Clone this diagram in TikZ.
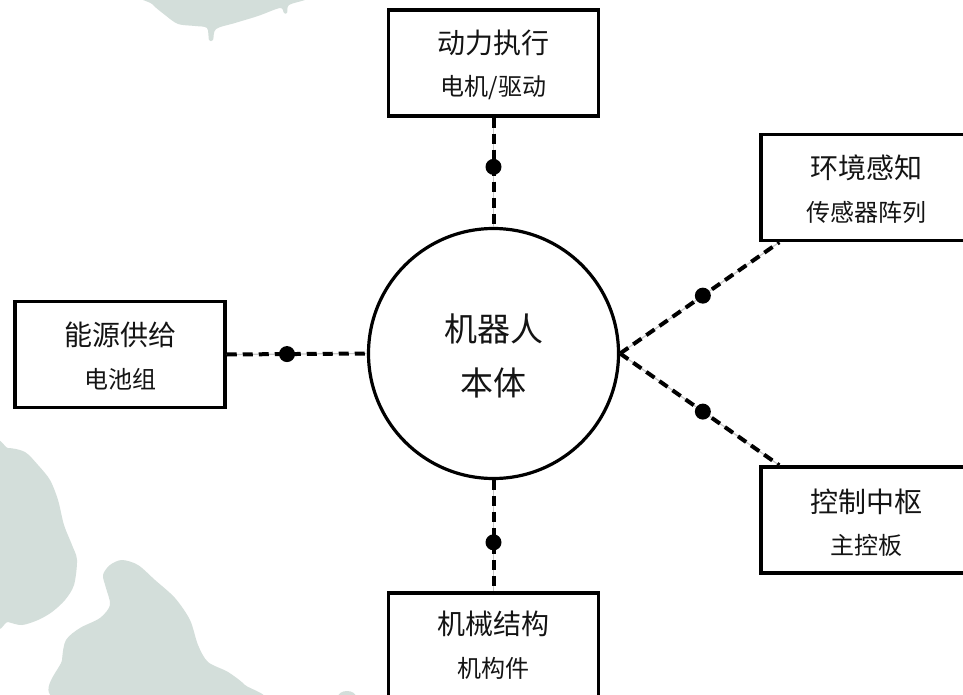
\documentclass[tikz,border=0pt]{standalone}
\usepackage{fontspec}
\newfontfamily\cjk{Noto Sans CJK SC}
\begin{document}
\begin{tikzpicture}[x=1pt,y=-1pt,
  blob/.style={fill=blobcol},
  box/.style={draw=black, line width=3.5pt, fill=white, rectangle, minimum width=210pt, minimum height=106pt, inner sep=0pt},
  bodycirc/.style={draw=black, line width=3.2pt, fill=white, circle, minimum size=250pt, inner sep=0pt},
  titletext/.style={font=\cjk\fontsize{28}{30}\selectfont, text=black!92},
  subtext/.style={font=\cjk\fontsize{24}{26}\selectfont, text=black!92},
  bodytext/.style={font=\cjk\fontsize{33}{36}\selectfont, text=black!92},
  link/.style={draw=black!22, line width=1.2pt, postaction={draw=black, line width=4pt, dash pattern=on 10pt off 6pt}},
  dotnode/.style={circle, fill=black, minimum size=16pt, inner sep=0pt}
]
\definecolor{blobcol}{HTML}{D3DEDA}
\useasboundingbox (0,0) rectangle (963,695);
\clip (0,0) rectangle (963,695);
\fill[white] (0,0) rectangle (963,695);

% background blobs
\fill[blob] plot[smooth cycle, tension=0.5] coordinates {
  (148,-5) (152,4) (165,15) (178,24) (195,26) (207,28) (209,40) (213,40) (216,29)
  (235,23) (258,16) (280,8) (284,13) (287,13) (289,5) (305,0) (315,-5)};
\fill[blob] plot[smooth cycle, tension=0.5] coordinates {
  (-5,452) (8,448) (25,452) (38,465) (50,480) (58,500) (64,525) (72,545) (77,560)
  (74,585) (65,600) (52,612) (38,620) (22,625) (8,622) (-5,618)};
\fill[blob] plot[smooth cycle, tension=0.5] coordinates {
  (122,560) (138,565) (155,580) (175,598) (190,620) (198,645) (208,662) (228,672)
  (245,685) (255,700) (60,700) (62,660) (66,640) (80,628) (100,618) (110,605)
  (106,588) (103,575) (110,565)};
\fill[blob] (347,697) ellipse (9 and 6);

% nodes
\node[bodycirc] (body) at (493.5,353.5) {};
\node[bodytext] (bodyt1) at ([yshift=24.5pt]body.center) {机器人};
\node[bodytext] (bodyt2) at ([yshift=-29.5pt]body.center) {本体};

\node[box] (top) at (493.5,63) {};
\node[titletext] (topt) at ([yshift=20pt]top.center) {动力执行};
\node[subtext] (tops) at ([yshift=-24.5pt]top.center) {电机/驱动};

\node[box] (left) at (120,354.5) {};
\node[titletext] (leftt) at ([yshift=20pt]left.center) {能源供给};
\node[subtext] (lefts) at ([yshift=-24.5pt]left.center) {电池组};

\node[box] (rtop) at (866,187.5) {};
\node[titletext] (rtopt) at ([yshift=20pt]rtop.center) {环境感知};
\node[subtext] (rtops) at ([yshift=-24.5pt]rtop.center) {传感器阵列};

\node[box] (rbot) at (866,520) {};
\node[titletext] (rbott) at ([yshift=18pt]rbot.center) {控制中枢};
\node[subtext] (rbots) at ([yshift=-25pt]rbot.center) {主控板};

\node[box] (bot) at (493.5,646) {};
\node[titletext] (bott) at ([yshift=22pt]bot.center) {机械结构};
\node[subtext] (bots) at ([yshift=-22pt]bot.center) {机构件};

% connectors
\coordinate (rtopend) at ([xshift=20pt]rtop.south west);
\coordinate (rbotend) at ([xshift=20pt]rbot.north west);
\path[link] (top.south) -- (body.north) node[dotnode, pos=0.45] (d1) {};
\path[link] (left.east) -- (body.west) node[dotnode, pos=0.43] (d2) {};
\path[link] (body.east) -- (rtopend) node[dotnode, pos=0.52] (d3) {};
\path[link] (body.east) -- (rbotend) node[dotnode, pos=0.52] (d4) {};
\path[link] (body.south) -- (bot.north) node[dotnode, pos=0.56] (d5) {};
\end{tikzpicture}
\end{document}
